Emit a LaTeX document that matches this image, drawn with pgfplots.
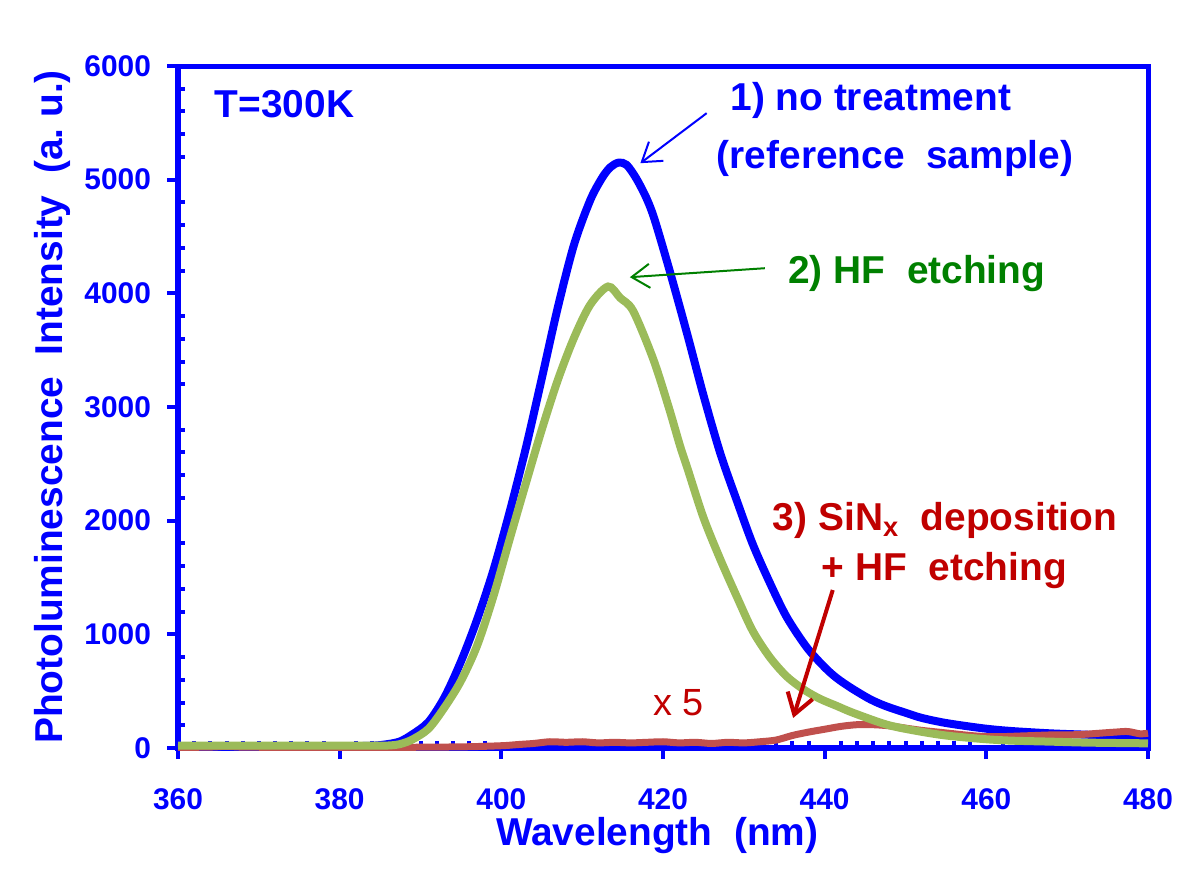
\documentclass[border=0pt]{standalone}
\usepackage{pgfplots}
\pgfplotsset{compat=1.18}
\usepackage{fontspec}
\setmainfont{Liberation Sans}
\usetikzlibrary{arrows.meta}
\definecolor{cblue}{RGB}{0,0,255}
\definecolor{cgreen}{RGB}{155,187,89}
\definecolor{cred}{RGB}{192,80,77}
\definecolor{tgreen}{RGB}{0,128,0}
\definecolor{tred}{RGB}{192,0,0}
\begin{document}
\begin{tikzpicture}
\path[use as bounding box] (0,0) rectangle (600bp,437.5bp);
\begin{axis}[
  at={(89bp,63.5bp)}, anchor=south west,
  scale only axis, width=485bp, height=341bp,
  xmin=360, xmax=480, ymin=0, ymax=6000,
  xtick={360,380,...,480}, ytick={0,1000,...,6000},
  minor x tick num=9, minor y tick num=4,
  tick pos=left, tick align=outside,
  major tick length=5.5bp, minor tick length=-3.5bp,
  every tick/.style={cblue, line width=2bp},
  axis line style={cblue, line width=2.5bp},
  clip=false,
  /pgf/number format/assume math mode=true,
  /pgf/number format/set thousands separator={},
  ticklabel style={font=\bfseries\fontsize{15}{15}\selectfont, text=cblue},
  xticklabel style={yshift=-11.5bp},
  yticklabel style={xshift=-4.5bp},
  xlabel={Wavelength\ \ (nm)},
  ylabel={Photoluminescence\ \ Intensity\ \ (a.\ u.)},
  every axis x label/.style={at={(rel axis cs:0.494,0)}, yshift=-44bp, anchor=center, font=\bfseries\fontsize{19.5}{19.5}\selectfont, text=cblue},
  every axis y label/.style={at={(rel axis cs:0,0.5)}, xshift=-63bp, rotate=90, anchor=center, font=\bfseries\fontsize{19.5}{19.5}\selectfont, text=cblue},
]
\addplot[cblue, line width=4bp, smooth, tension=0.5] coordinates {
(360,15)(365,15)(370,15)(375,15)(380,15)(384,20)(386,35)(387.5,59)(389,120)(391,230)(393,450)(395,760)(397,1130)(399,1560)(401,2070)(403,2630)(405,3250)(407,3880)(409,4430)(411,4820)(412.5,5020)(413.5,5110)(414.5,5150)(415.5,5130)(416.7,5010)(418,4830)(419,4640)(420.9,4180)(423,3640)(425,3105)(427.1,2590)(429.2,2163)(431.1,1794)(433.2,1456)(435.3,1152)(437.8,884)(440,710)(441.5,615)(443.3,527)(445.6,430)(447.5,370)(450,310)(452,265)(455,220)(459.6,173)(463,150)(467.9,129)(472,118)(476,108)(480,99)
};
\addplot[cred, line width=3.5bp, smooth, tension=0.5] coordinates {
(360,5)(364,8)(366,15)(368,8)(375,5)(385,5)(395,10)(400,20)(402,30)(404,40)(406,55)(408,50)(410,55)(412,45)(414,50)(416,45)(418,50)(420,55)(422,45)(424,50)(426,40)(428,50)(430,45)(432,55)(434,70)(436,110)(438,140)(440,165)(442,190)(444,205)(446,205)(448,195)(450,175)(452,155)(454,140)(456,125)(458,110)(460,100)(462,100)(464,105)(466,110)(468,115)(470,115)(472,120)(474,130)(476,140)(477.5,145)(479,125)(480,130)
};
\addplot[cgreen, line width=4bp, smooth, tension=0.5] coordinates {
(360,20)(370,20)(380,20)(383,20)(386,22)(387.5,35)(389,75)(391,170)(393,360)(395,590)(397,900)(399,1330)(401,1830)(403,2320)(405,2800)(407,3240)(409,3610)(411,3900)(413.2,4060)(414.7,3960)(416.3,3846)(418.8,3420)(420.7,3000)(422.1,2660)(423,2466)(425,2028)(427.1,1658)(429.2,1321)(431.1,1030)(433.2,800)(435.3,630)(437.5,510)(439.5,430)(441.5,370)(443.5,310)(447.7,205)(451.4,150)(455,110)(459.6,79)(463,65)(467.9,56)(472,48)(476,44)(480,41)
};
\node[anchor=west, text=cblue, font=\bfseries\fontsize{19.5}{19.5}\selectfont] at (axis cs:363.7,5664) {T=300K};
\node[text=cblue, font=\bfseries\fontsize{19.5}{19.5}\selectfont] at (axis cs:445.7,5699) {1) no treatment};
\node[text=cblue, font=\bfseries\fontsize{19.5}{19.5}\selectfont] at (axis cs:448.7,5189) {(reference\ \ sample)};
\node[text=tgreen, font=\bfseries\fontsize{19.5}{19.5}\selectfont] at (axis cs:451.4,4178) {2) HF\ \ etching};
\node[text=tred, font=\bfseries\fontsize{19.5}{19.5}\selectfont] at (axis cs:454.9,2005) {3) SiN$_{\mathbf{x}}$\ \ deposition};
\node[text=tred, font=\bfseries\fontsize{19.5}{19.5}\selectfont] at (axis cs:454.8,1565) {+ HF\ \ etching};
\node[text=tred, font=\fontsize{19}{19}\selectfont] at (axis cs:421.9,396) {x 5};
\draw[cblue, line width=1bp, -{Straight Barb[length=9bp,width=12bp]}] (axis cs:425.4,5585) -- (axis cs:417.2,5145);
\draw[tgreen, line width=1bp, -{Straight Barb[length=9bp,width=12bp]}] (axis cs:432.6,4221) -- (axis cs:415.9,4142);
\draw[tred, line width=2bp, -{Straight Barb[length=10bp,width=13bp]}] (axis cs:441.0,1390) -- (axis cs:436.1,264);
\end{axis}
\end{tikzpicture}
\end{document}
